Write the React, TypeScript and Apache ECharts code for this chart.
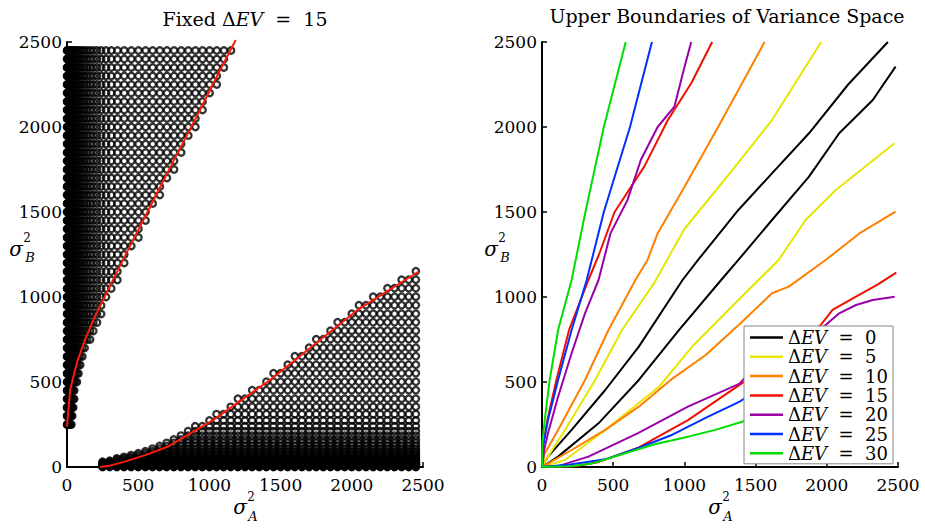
import React, { useEffect, useRef } from 'react';
import * as echarts from 'echarts';

// ---------- Left panel data ----------
// variance values used along the "small" dimension of each region (dense near zero)
const fineSteps = [0, 2, 4, 7, 10, 13, 17, 21, 26, 31, 37, 44, 51, 60, 70, 81, 93, 108, 124, 142, 162, 185, 211, 240, 274, 311, 354, 402, 452, 502, 552, 602, 652, 702, 752, 802, 852, 902, 952, 1002, 1052, 1102, 1152, 1202];
// upper region: rows of sigma_B^2 and the outermost sigma_A^2 reached in each row
const upperRowsB = [250, 300, 350, 400, 450, 500, 550, 600, 650, 700, 750, 800, 850, 900, 950, 1000, 1050, 1100, 1150, 1200, 1250, 1300, 1350, 1400, 1450, 1500, 1550, 1600, 1650, 1700, 1750, 1800, 1850, 1900, 1950, 2000, 2050, 2100, 2150, 2200, 2250, 2300, 2350, 2400, 2450];
const upperRowMaxA = [36, 41, 47, 52, 57, 71, 86, 101, 120, 141, 162, 188, 213, 240, 269, 299, 328, 358, 388, 418, 447, 478, 509, 539, 570, 600, 630, 661, 691, 722, 752, 783, 814, 845, 876, 908, 939, 969, 999, 1029, 1059, 1089, 1119, 1149, 1179];
// lower region: columns of sigma_A^2 and the highest sigma_B^2 reached in each column
const lowerColsA = [250, 300, 350, 400, 450, 500, 550, 600, 650, 700, 750, 800, 850, 900, 950, 1000, 1050, 1100, 1150, 1200, 1250, 1300, 1350, 1400, 1450, 1500, 1550, 1600, 1650, 1700, 1750, 1800, 1850, 1900, 1950, 2000, 2050, 2100, 2150, 2200, 2250, 2300, 2350, 2400, 2450];
const lowerColMaxB = [33, 42, 51, 60, 75, 89, 104, 118, 133, 147, 171, 195, 220, 244, 269, 294, 321, 350, 380, 409, 438, 468, 497, 527, 558, 592, 625, 659, 692, 726, 759, 793, 827, 860, 894, 927, 959, 986, 1012, 1038, 1064, 1091, 1117, 1143, 1170];
// red boundary lines (Delta EV = 15)
const redUpperA = [0, 23, 71, 129, 200, 270, 341, 412, 565, 760, 910, 1060, 1185];
const redUpperB = [239, 457, 618, 754, 892, 1011, 1130, 1249, 1500, 1820, 2060, 2310, 2512];
const redLowerA = [233, 300, 400, 550, 706, 1025, 1426, 2040, 2470];
const redLowerB = [0, 8, 30, 70, 119, 276, 512, 924, 1150];

// ---------- Right panel data ----------
const evLabels = ['0', '5', '10', '15', '20', '25', '30'];
const ev0UpperA = [0, 42, 208, 444, 680, 987, 1096, 1379, 1615, 1875, 2150, 2429];
const ev0UpperB = [0, 61, 218, 453, 708, 1100, 1218, 1512, 1727, 1963, 2250, 2500];
const ev0LowerA = [0, 113, 397, 680, 963, 1258, 1379, 1615, 1875, 2087, 2323, 2483];
const ev0LowerB = [0, 61, 257, 512, 806, 1100, 1218, 1453, 1708, 1963, 2159, 2355];
const ev5UpperA = [0, 42, 161, 373, 562, 786, 1000, 1331, 1615, 1960];
const ev5UpperB = [0, 61, 218, 512, 806, 1080, 1400, 1740, 2041, 2500];
const ev5LowerA = [0, 161, 444, 822, 1065, 1388, 1662, 1851, 2063, 2476];
const ev5LowerB = [0, 41, 218, 472, 718, 990, 1218, 1453, 1629, 1904];
const ev10UpperA = [0, 19, 113, 302, 467, 656, 741, 812, 1001, 1237, 1379, 1563];
const ev10UpperB = [0, 80, 218, 512, 806, 1100, 1218, 1374, 1648, 2000, 2218, 2500];
const ev10LowerA = [0, 66, 208, 444, 680, 916, 1152, 1400, 1615, 1733, 1992, 2229, 2483];
const ev10LowerB = [0, 31, 100, 218, 355, 520, 660, 850, 1022, 1061, 1218, 1374, 1502];
const ev15UpperA = [0, 8, 38, 101, 190, 326, 400, 510, 720, 883, 1050, 1195];
const ev15UpperB = [0, 130, 276, 512, 806, 1100, 1250, 1500, 1770, 2040, 2260, 2500];
const ev15LowerA = [0, 233, 400, 680, 1025, 1426, 1957, 2040, 2205, 2350, 2488];
const ev15LowerB = [0, 5, 30, 115, 276, 505, 835, 924, 1002, 1070, 1143];
const ev20UpperA = [0, 15, 42, 113, 208, 302, 397, 481, 600, 694, 812, 930, 1001, 1048];
const ev20UpperB = [0, 100, 198, 413, 669, 904, 1100, 1374, 1570, 1806, 2000, 2120, 2355, 2500];
const ev20LowerA = [0, 113, 326, 671, 1025, 1388, 1430, 1992, 2087, 2205, 2323, 2477];
const ev20LowerB = [0, 5, 61, 198, 355, 490, 530, 835, 904, 953, 982, 1002];
const ev25UpperA = [0, 7, 42, 113, 208, 314, 434, 618, 772];
const ev25UpperB = [0, 119, 276, 512, 806, 1100, 1500, 2000, 2500];
const ev25LowerA = [0, 200, 444, 671, 916, 1152, 1388, 1440];
const ev25LowerB = [0, 15, 45, 110, 190, 290, 384, 414];
const ev30UpperA = [0, 3, 19, 54, 113, 208, 305, 434, 588];
const ev30UpperB = [0, 150, 276, 512, 806, 1100, 1500, 2000, 2500];
const ev30LowerA = [0, 200, 350, 562, 798, 1034, 1223, 1440];
const ev30LowerB = [0, 5, 20, 75, 135, 180, 220, 275];

const evCurves = [
  [ev0UpperA, ev0UpperB, ev0LowerA, ev0LowerB],
  [ev5UpperA, ev5UpperB, ev5LowerA, ev5LowerB],
  [ev10UpperA, ev10UpperB, ev10LowerA, ev10LowerB],
  [ev15UpperA, ev15UpperB, ev15LowerA, ev15LowerB],
  [ev20UpperA, ev20UpperB, ev20LowerA, ev20LowerB],
  [ev25UpperA, ev25UpperB, ev25LowerA, ev25LowerB],
  [ev30UpperA, ev30UpperB, ev30LowerA, ev30LowerB],
];
const evColors = ['#000000', '#e6e600', '#ff8000', '#f01000', '#9a00aa', '#0030ff', '#00dd00'];

const FONT = 'DejaVu Serif';

const zip = (a: number[], b: number[]) => a.map((v, i) => [v, b[i]]);

function buildOption() {
  const upperPts: number[][] = [];
  upperRowsB.forEach((b, i) => {
    fineSteps.forEach((a) => {
      if (a <= upperRowMaxA[i]) upperPts.push([a, b]);
    });
  });
  const lowerPts: number[][] = [];
  lowerColsA.forEach((a, i) => {
    fineSteps.forEach((b) => {
      if (b <= lowerColMaxB[i]) lowerPts.push([a, b]);
    });
  });

  const axis = (gridIndex: number, isY: boolean) => ({
    gridIndex,
    type: 'value',
    min: 0,
    max: 2500,
    interval: 500,
    axisLine: { show: true, onZero: false, lineStyle: { color: '#000', width: 2 } },
    axisTick: { show: true, inside: true, length: 5, lineStyle: { color: '#000', width: 1.5 } },
    axisLabel: {
      color: '#000', fontFamily: FONT, fontSize: 17, margin: isY ? 5 : 9,
      formatter: (v: number) => String(v),
    },
    splitLine: { show: false },
  });

  const names = evLabels.map((e) => 'ΔEV = ' + e);

  const rightSeries: any[] = [];
  evCurves.forEach((c, i) => {
    [0, 2].forEach((k) => {
      rightSeries.push({
        type: 'line',
        name: names[i],
        xAxisIndex: 1,
        yAxisIndex: 1,
        data: zip(c[k], c[k + 1]),
        symbol: 'none',
        showSymbol: false,
        silent: true,
        lineStyle: { color: evColors[i], width: 2 },
        itemStyle: { color: evColors[i] },
        z: 3,
      });
    });
  });

  const circleStyle = { color: 'rgba(0,0,0,0)', borderColor: '#000', borderWidth: 2.3 };

  const richBase = { fontFamily: FONT, fontSize: 19, fill: '#000' };

  return {
    animation: false,
    backgroundColor: '#fff',
    grid: [
      { left: 67, top: 42, width: 356, height: 425 },
      { left: 542, top: 42, width: 356, height: 425 },
    ],
    xAxis: [axis(0, false), axis(1, false)],
    yAxis: [axis(0, true), axis(1, true)],
    legend: {
      orient: 'vertical',
      left: 744,
      top: 326,
      backgroundColor: '#fff',
      borderColor: '#888',
      borderWidth: 1,
      borderRadius: 0,
      padding: [2, 5, 1, 6],
      itemWidth: 33,
      itemHeight: 2.5,
      itemGap: 0.3,
      icon: 'rect',
      selectedMode: false,
      data: names.map((n) => ({ name: n })),
      formatter: (name: string) => '{n|Δ}{i|EV}{n|  =  ' + name.split('= ')[1] + '}',
      textStyle: {
        color: '#000',
        fontFamily: FONT,
        fontSize: 18,
        lineHeight: 19,
        rich: {
          n: { fontFamily: FONT, fontSize: 18, lineHeight: 19, color: '#000' },
          i: { fontFamily: FONT, fontSize: 18, lineHeight: 19, color: '#000', fontStyle: 'italic' },
        },
      },
    },
    graphic: [
      {
        type: 'text', x: 245, y: 19,
        style: {
          text: '{n|Fixed Δ}{i|EV}{n|  =  15}', align: 'center', verticalAlign: 'middle',
          rich: { n: { ...richBase }, i: { ...richBase, fontStyle: 'italic' } },
        },
      },
      {
        type: 'text', x: 727, y: 16,
        style: { text: 'Upper Boundaries of Variance Space', align: 'center', verticalAlign: 'middle', font: '19px "DejaVu Serif"', fill: '#000' },
      },
      ...[0, 475].flatMap((dx) => [
        { type: 'text', x: 16 + dx, y: 249, style: { text: 'σ', align: 'center', verticalAlign: 'middle', font: 'italic 20px "DejaVu Serif"', fill: '#000' } },
        { type: 'text', x: 27 + dx, y: 238, style: { text: '2', align: 'center', verticalAlign: 'middle', font: '12px "DejaVu Serif"', fill: '#000' } },
        { type: 'text', x: 30 + dx, y: 257, style: { text: 'B', align: 'center', verticalAlign: 'middle', font: 'italic 13px "DejaVu Serif"', fill: '#000' } },
        { type: 'text', x: 240 + dx, y: 507, style: { text: 'σ', align: 'center', verticalAlign: 'middle', font: 'italic 20px "DejaVu Serif"', fill: '#000' } },
        { type: 'text', x: 251 + dx, y: 497, style: { text: '2', align: 'center', verticalAlign: 'middle', font: '12px "DejaVu Serif"', fill: '#000' } },
        { type: 'text', x: 253 + dx, y: 516, style: { text: 'A', align: 'center', verticalAlign: 'middle', font: 'italic 13px "DejaVu Serif"', fill: '#000' } },
      ]),
    ],
    series: [
      {
        type: 'scatter', xAxisIndex: 0, yAxisIndex: 0, data: upperPts,
        symbol: 'circle', symbolSize: 6.4, itemStyle: circleStyle, silent: true,
        progressive: 0, large: false, z: 2,
      },
      {
        type: 'scatter', xAxisIndex: 0, yAxisIndex: 0, data: lowerPts,
        symbol: 'circle', symbolSize: 6.4, itemStyle: circleStyle, silent: true,
        progressive: 0, large: false, z: 2,
      },
      {
        type: 'line', xAxisIndex: 0, yAxisIndex: 0, data: zip(redUpperA, redUpperB),
        symbol: 'none', showSymbol: false, clip: false, silent: true,
        lineStyle: { color: '#ff1a0a', width: 2 }, z: 4,
      },
      {
        type: 'line', xAxisIndex: 0, yAxisIndex: 0, data: zip(redLowerA, redLowerB),
        symbol: 'none', showSymbol: false, clip: false, silent: true,
        lineStyle: { color: '#ff1a0a', width: 2 }, z: 4,
      },
      ...rightSeries,
    ],
  };
}

export default function App() {
  const ref = useRef<HTMLDivElement>(null);
  useEffect(() => {
    if (!ref.current) return;
    const chart = echarts.init(ref.current, undefined, { renderer: 'svg' });
    chart.setOption(buildOption() as any);
    return () => chart.dispose();
  }, []);
  return (
    <div
      ref={ref}
      style={{ position: 'fixed', left: 0, top: 0, width: 925, height: 529, background: '#fff' }}
    />
  );
}
